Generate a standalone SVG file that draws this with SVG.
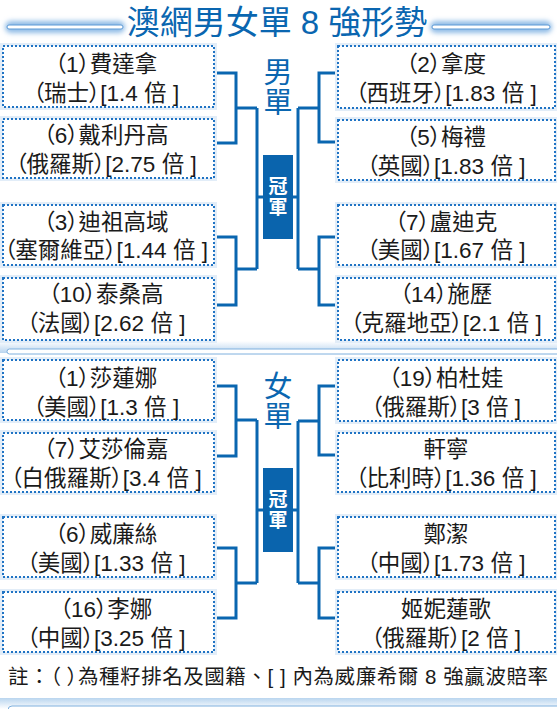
<svg xmlns="http://www.w3.org/2000/svg" width="557" height="709" viewBox="0 0 557 709">
<defs>
<style>
.box{fill:#fff;stroke:#1f73c4;stroke-width:2;stroke-dasharray:2 2}
.glow{fill:none;stroke:#e2edf8;stroke-width:6}
.t{font-family:"Liberation Sans","Noto Sans CJK TC",sans-serif;font-size:22.5px;fill:#1a1a1a;text-anchor:middle;font-feature-settings:"palt"}
.con{fill:none;stroke:#0a66b0;stroke-width:3}
.champ{fill:#0a64ad}
.ct{font-family:"Noto Sans CJK TC",sans-serif;font-size:19px;font-weight:bold;fill:#fff;writing-mode:vertical-rl;letter-spacing:2px}
.lbl{font-family:"Noto Sans CJK TC",sans-serif;font-size:29px;fill:#0a66b0;writing-mode:vertical-rl;letter-spacing:1px}
.palt{font-feature-settings:"palt"}
</style>
<filter id="blur" x="-20%" y="-200%" width="140%" height="500%"><feGaussianBlur stdDeviation="2.5"/></filter>
<linearGradient id="band" x1="0" y1="0" x2="0" y2="1">
<stop offset="0" stop-color="#ffffff"/>
<stop offset="1" stop-color="#b9d5ef"/>
</linearGradient>
</defs>
<rect width="557" height="709" fill="#fff"/>
<g id="title">
<rect x="5" y="21" width="120" height="12" rx="6" fill="#8fbbe6" filter="url(#blur)"/>
<rect x="7" y="25" width="116" height="4" rx="2" fill="#fff" stroke="#5d9ad6" stroke-width="1"/>
<rect x="430" y="21" width="122" height="12" rx="6" fill="#8fbbe6" filter="url(#blur)"/>
<rect x="432" y="25" width="118" height="4" rx="2" fill="#fff" stroke="#5d9ad6" stroke-width="1"/>
<text x="277" y="34" font-family="Liberation Sans,Noto Sans CJK TC,sans-serif" font-size="33" fill="#0a66b0" text-anchor="middle">澳網男女單 8 強形勢</text>
</g>
<g id="divider">
<rect x="0" y="341" width="557" height="12" fill="url(#band)"/>
<rect x="7" y="349" width="560" height="5" rx="2.5" fill="#fff" stroke="#7fb0de" stroke-width="1"/>
</g>
<g id="footer-band">
<rect x="0" y="698" width="557" height="11" fill="url(#band)" transform="rotate(180 278.5 703.5)"/>
<rect x="8" y="706" width="560" height="10" rx="4" fill="#fff" stroke="#7fb0de" stroke-width="1"/>
</g>
<g id="connectors">
<path class="con" d="M214,73H236V143H214M236,108H257M257,108V269M214,237H236V305H214M236,269H257M257,197H298"/>
<path class="con" d="M338,73H319V142H338M319,108H298M298,108V269M338,237H319V305H338M319,269H298"/>
<path class="con" d="M214,386H236V456H214M236,420H257M257,420V583M214,548H236V618H214M236,583H257M257,510H298"/>
<path class="con" d="M338,386H319V455H338M319,421H298M298,421V583M338,548H319V618H338M319,583H298"/>
</g>
<g id="label-men"><text class="lbl" x="278" y="57">男單</text></g>
<g id="label-women"><text class="lbl" x="278" y="371">女單</text></g>
<g id="champ-men"><rect class="champ" x="263" y="155" width="30" height="84"/><text class="ct" x="278" y="176">冠軍</text></g>
<g id="champ-women"><rect class="champ" x="263" y="468" width="30" height="84"/><text class="ct" x="278" y="489">冠軍</text></g>
<g id="m1"><rect class="glow" x="3" y="46" width="211" height="61"/><rect class="box" x="3" y="46" width="211" height="61"/><text class="t" x="106" y="72">（1）費達拿</text><text class="t" x="106" y="101">（瑞士）[1.4 倍 ]</text></g>
<g id="m6"><rect class="glow" x="3" y="119" width="211" height="59"/><rect class="box" x="3" y="119" width="211" height="59"/><text class="t" x="106" y="143">（6）戴利丹高</text><text class="t" x="106" y="172">（俄羅斯）[2.75 倍 ]</text></g>
<g id="m3"><rect class="glow" x="3" y="205" width="211" height="60"/><rect class="box" x="3" y="205" width="211" height="60"/><text class="t" x="106" y="230">（3）迪祖高域</text><text class="t" x="106" y="258">（塞爾維亞）[1.44 倍 ]</text></g>
<g id="m10"><rect class="glow" x="3" y="278" width="211" height="62"/><rect class="box" x="3" y="278" width="211" height="62"/><text class="t" x="106" y="302">（10）泰桑高</text><text class="t" x="106" y="331">（法國）[2.62 倍 ]</text></g>
<g id="m2"><rect class="glow" x="338" y="46" width="217" height="62"/><rect class="box" x="338" y="46" width="217" height="62"/><text class="t" x="446" y="72">（2）拿度</text><text class="t" x="446" y="101">（西班牙）[1.83 倍 ]</text></g>
<g id="m5"><rect class="glow" x="338" y="120" width="217" height="60"/><rect class="box" x="338" y="120" width="217" height="60"/><text class="t" x="446" y="145">（5）梅禮</text><text class="t" x="446" y="174">（英國）[1.83 倍 ]</text></g>
<g id="m7"><rect class="glow" x="338" y="205" width="217" height="60"/><rect class="box" x="338" y="205" width="217" height="60"/><text class="t" x="446" y="230">（7）盧迪克</text><text class="t" x="446" y="258">（美國）[1.67 倍 ]</text></g>
<g id="m14"><rect class="glow" x="338" y="278" width="217" height="62"/><rect class="box" x="338" y="278" width="217" height="62"/><text class="t" x="446" y="302">（14）施歷</text><text class="t" x="446" y="331">（克羅地亞）[2.1 倍 ]</text></g>
<g id="w1"><rect class="glow" x="3" y="360" width="211" height="60"/><rect class="box" x="3" y="360" width="211" height="60"/><text class="t" x="106" y="386">（1）莎蓮娜</text><text class="t" x="106" y="415">（美國）[1.3 倍 ]</text></g>
<g id="w7"><rect class="glow" x="3" y="433" width="211" height="59"/><rect class="box" x="3" y="433" width="211" height="59"/><text class="t" x="106" y="457">（7）艾莎倫嘉</text><text class="t" x="106" y="486">（白俄羅斯）[3.4 倍 ]</text></g>
<g id="w6"><rect class="glow" x="3" y="517" width="211" height="60"/><rect class="box" x="3" y="517" width="211" height="60"/><text class="t" x="106" y="542">（6）威廉絲</text><text class="t" x="106" y="571">（美國）[1.33 倍 ]</text></g>
<g id="w16"><rect class="glow" x="3" y="592" width="211" height="60"/><rect class="box" x="3" y="592" width="211" height="60"/><text class="t" x="106" y="617">（16）李娜</text><text class="t" x="106" y="646">（中國）[3.25 倍 ]</text></g>
<g id="w19"><rect class="glow" x="338" y="360" width="217" height="61"/><rect class="box" x="338" y="360" width="217" height="61"/><text class="t" x="446" y="386">（19）柏杜娃</text><text class="t" x="446" y="415">（俄羅斯）[3 倍 ]</text></g>
<g id="w-xuan"><rect class="glow" x="338" y="433" width="217" height="59"/><rect class="box" x="338" y="433" width="217" height="59"/><text class="t" x="446" y="457">軒寧</text><text class="t" x="446" y="486">（比利時）[1.36 倍 ]</text></g>
<g id="w-zheng"><rect class="glow" x="338" y="517" width="217" height="60"/><rect class="box" x="338" y="517" width="217" height="60"/><text class="t" x="446" y="542">鄭潔</text><text class="t" x="446" y="571">（中國）[1.73 倍 ]</text></g>
<g id="w-ji"><rect class="glow" x="338" y="592" width="217" height="60"/><rect class="box" x="338" y="592" width="217" height="60"/><text class="t" x="446" y="617">姬妮蓮歌</text><text class="t" x="446" y="646">（俄羅斯）[2 倍 ]</text></g>
<g id="note"><text x="8" y="684" font-family="Liberation Sans,Noto Sans CJK TC,sans-serif" font-size="20.5" fill="#1a1a1a" textLength="540" lengthAdjust="spacing">註：<tspan class="palt">（ ）</tspan>為種籽排名及國籍、[ ] 內為威廉希爾 8 強贏波賠率</text></g>
</svg>
